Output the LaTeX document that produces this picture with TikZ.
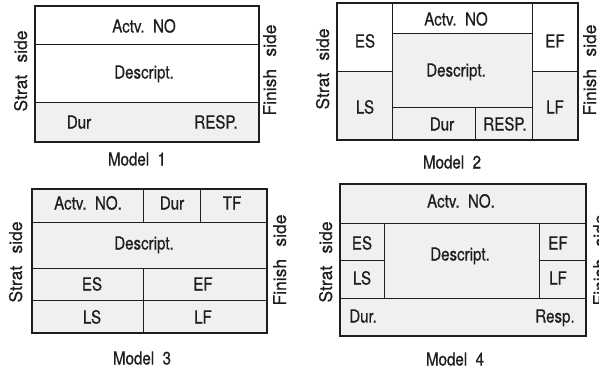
\documentclass[tikz,border=0pt]{standalone}
\usepackage{fontspec}
\setmainfont[FakeStretch=0.84, FakeBold=0.6]{TeX Gyre Heros}
\newfontfamily\sidefont[FakeBold=0.5]{TeX Gyre Heros}
\usetikzlibrary{positioning}
\definecolor{cink}{HTML}{1E1E1E}
\definecolor{cgrain}{HTML}{F0F0F0}
\tikzset{
  every picture/.style={line width=0.9pt},
  frame/.style={draw=cink, line width=2pt},
  cell/.style={draw=cink, line width=1pt},
  grain/.style={fill=cgrain},
  lbl/.style={font=\fontsize{18}{20}\selectfont, text=cink, inner sep=0pt, text height=13pt, text depth=0pt},
  side/.style={font=\sidefont\fontsize{17.5}{19}\selectfont, text=cink, rotate=90, inner sep=0pt, text height=12pt, text depth=0pt},
}
\begin{document}
\begin{tikzpicture}[x=1pt, y=-1pt]
  \useasboundingbox (0,0) rectangle (599,369);
  % Model 1
  \fill[grain] (35,102) rectangle (259,142);
  \draw[cell] (35,45) -- (259,45) (35,102) -- (259,102);
  \draw[frame] (35,6) rectangle (259,142);
  \node[lbl] (m1act) at (144,26) {Actv.\ \ NO};
  \node[lbl] (m1des) at (144,72) {Descript.};
  \node[lbl] (m1dur) at (79,122) {Dur};
  \node[lbl] (m1resp) at (216,122) {RESP.};
  \node[lbl] (m1cap) at (137,159) {Model\ \ 1};
  \node[side] (m1st) at (21,71) {Strat\hspace{0.7em}side};
  \node[side] (m1fi) at (270,70) {Finish\hspace{0.7em}side};
  % Model 2
  \fill[grain] (337,71) rectangle (392,140) (532,71) rectangle (578,140)
    (392,34) rectangle (532,140);
  \draw[cell] (392,3) -- (392,140) (532,3) -- (532,140)
    (337,71) -- (392,71) (532,71) -- (578,71)
    (392,34) -- (532,34) (392,107) -- (532,107) (475,107) -- (475,140);
  \draw[frame] (337,3) rectangle (578,140);
  \node[lbl] (m2es) at (365,41) {ES};
  \node[lbl] (m2ls) at (365,107) {LS};
  \node[lbl] (m2act) at (456,19) {Actv.\ \ NO};
  \node[lbl] (m2des) at (456,70) {Descript.};
  \node[lbl] (m2dur) at (442,124) {Dur};
  \node[lbl] (m2resp) at (505,124) {RESP.};
  \node[lbl] (m2ef) at (555,41) {EF};
  \node[lbl] (m2lf) at (555,107) {LF};
  \node[lbl] (m2cap) at (452,162) {Model\ \ 2};
  \node[side] (m2st) at (323,69) {Strat\hspace{0.7em}side};
  \node[side] (m2fi) at (590,70) {Finish\hspace{0.7em}side};
  % Model 3
  \fill[grain] (32,189) rectangle (267,333);
  \draw[cell] (32,222) -- (267,222) (32,268) -- (267,268) (32,300) -- (267,300)
    (143,189) -- (143,222) (200,189) -- (200,222) (143,268) -- (143,333);
  \draw[frame] (32,189) rectangle (267,333);
  \node[lbl] (m3act) at (88,203) {Actv.\ \ NO.};
  \node[lbl] (m3dur) at (172,203) {Dur};
  \node[lbl] (m3tf) at (232,203) {TF};
  \node[lbl] (m3des) at (144,243) {Descript.};
  \node[lbl] (m3es) at (92,284) {ES};
  \node[lbl] (m3ef) at (203,284) {EF};
  \node[lbl] (m3ls) at (92,317) {LS};
  \node[lbl] (m3lf) at (203,317) {LF};
  \node[lbl] (m3cap) at (142,358) {Model\ \ 3};
  \node[side] (m3st) at (16,262) {Strat\hspace{0.7em}side};
  \node[side] (m3fi) at (280,260) {Finish\hspace{0.7em}side};
  % Model 4
  \fill[grain] (340,184) rectangle (586,336);
  \draw[cell] (340,223) -- (586,223) (340,298) -- (586,298)
    (384,223) -- (384,298) (539,223) -- (539,298)
    (340,260) -- (384,260) (539,260) -- (586,260);
  \draw[frame] (340,184) rectangle (586,336);
  \node[lbl] (m4act) at (461,201) {Actv.\ \ NO.};
  \node[lbl] (m4es) at (362,243) {ES};
  \node[lbl] (m4ls) at (362,278) {LS};
  \node[lbl] (m4des) at (460,254) {Descript.};
  \node[lbl] (m4ef) at (558,243) {EF};
  \node[lbl] (m4lf) at (558,278) {LF};
  \node[lbl] (m4dur) at (363,316) {Dur.};
  \node[lbl] (m4resp) at (555,316) {Resp.};
  \node[lbl] (m4cap) at (455,359) {Model\ \ 4};
  \node[side] (m4st) at (326,262) {Strat\hspace{0.7em}side};
  \node[side] (m4fi) at (600,260) {Finish\hspace{0.7em}side};
\end{tikzpicture}
\end{document}
